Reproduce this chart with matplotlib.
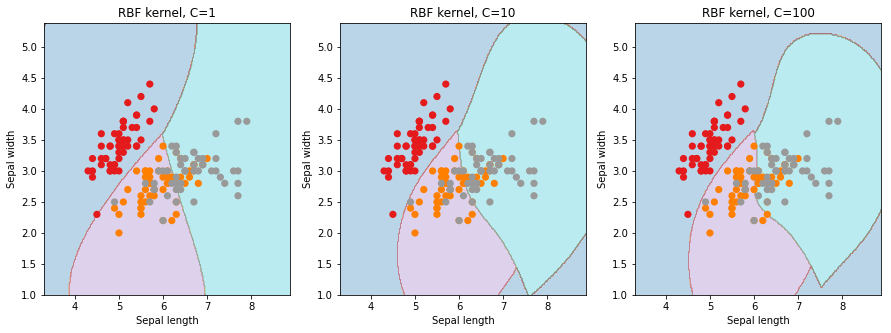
import numpy as np
import matplotlib
matplotlib.use("Agg")
import matplotlib.pyplot as plt

sepal_length = [5.1,4.9,4.7,4.6,5.0,5.4,4.6,5.0,4.4,4.9,5.4,4.8,4.8,4.3,5.8,5.7,5.4,5.1,5.7,5.1,
5.4,5.1,4.6,5.1,4.8,5.0,5.0,5.2,5.2,4.7,4.8,5.4,5.2,5.5,4.9,5.0,5.5,4.9,4.4,5.1,
5.0,4.5,4.4,5.0,5.1,4.8,5.1,4.6,5.3,5.0,
7.0,6.4,6.9,5.5,6.5,5.7,6.3,4.9,6.6,5.2,5.0,5.9,6.0,6.1,5.6,6.7,5.6,5.8,6.2,5.6,
5.9,6.1,6.3,6.1,6.4,6.6,6.8,6.7,6.0,5.7,5.5,5.5,5.8,6.0,5.4,6.0,6.7,6.3,5.6,5.5,
5.5,6.1,5.8,5.0,5.6,5.7,5.7,6.2,5.1,5.7,
6.3,5.8,7.1,6.3,6.5,7.6,4.9,7.3,6.7,7.2,6.5,6.4,6.8,5.7,5.8,6.4,6.5,7.7,7.7,6.0,
6.9,5.6,7.7,6.3,6.7,7.2,6.2,6.1,6.4,7.2,7.4,7.9,6.4,6.3,6.1,7.7,6.3,6.4,6.0,6.9,
6.7,6.9,5.8,6.8,6.7,6.7,6.3,6.5,6.2,5.9]
sepal_width = [3.5,3.0,3.2,3.1,3.6,3.9,3.4,3.4,2.9,3.1,3.7,3.4,3.0,3.0,4.0,4.4,3.9,3.5,3.8,3.8,
3.4,3.7,3.6,3.3,3.4,3.0,3.4,3.5,3.4,3.2,3.1,3.4,4.1,4.2,3.1,3.2,3.5,3.6,3.0,3.4,
3.5,2.3,3.2,3.5,3.8,3.0,3.8,3.2,3.7,3.3,
3.2,3.2,3.1,2.3,2.8,2.8,3.3,2.4,2.9,2.7,2.0,3.0,2.2,2.9,2.9,3.1,3.0,2.7,2.2,2.5,
3.2,2.8,2.5,2.8,2.9,3.0,2.8,3.0,2.9,2.6,2.4,2.4,2.7,2.7,3.0,3.4,3.1,2.3,3.0,2.5,
2.6,3.0,2.6,2.3,2.7,3.0,2.9,2.9,2.5,2.8,
3.3,2.7,3.0,2.9,3.0,3.0,2.5,2.9,2.5,3.6,3.2,2.7,3.0,2.5,2.8,3.2,3.0,3.8,2.6,2.2,
3.2,2.8,2.8,2.7,3.3,3.2,2.8,3.0,2.8,3.0,2.8,3.8,2.8,2.8,2.6,3.0,3.4,3.1,3.0,3.1,
3.1,3.1,2.7,3.2,3.3,3.0,2.5,3.0,3.4,3.0]
species = [0]*50 + [1]*50 + [2]*50
C_values = [1, 10, 100]
titles = ["RBF kernel, C=1", "RBF kernel, C=10", "RBF kernel, C=100"]
GAMMA = 0.5  # 1 / n_features

X = np.column_stack([sepal_length, sepal_width])
y = np.array(species)


def rbf(A, B, gamma):
    d = (A**2).sum(1)[:, None] + (B**2).sum(1)[None, :] - 2*A@B.T
    return np.exp(-gamma*d)


def train_binary(Xb, yb, C, gamma, tol=1e-3, max_iter=500000):
    K = rbf(Xb, Xb, gamma)
    Q = (yb[:, None]*yb[None, :])*K
    n = len(yb)
    a = np.zeros(n)
    G = -np.ones(n)
    dK = np.diag(K)
    for _ in range(max_iter):
        yG = -yb*G
        up = ((yb > 0) & (a < C)) | ((yb < 0) & (a > 0))
        low = ((yb > 0) & (a > 0)) | ((yb < 0) & (a < C))
        iu = np.where(up)[0]
        i = iu[np.argmax(yG[iu])]
        il = np.where(low)[0]
        if yG[i] - yG[il].min() < tol:
            break
        b = yG[i] - yG[il]
        ok = b > 0
        cand = il[ok]
        bb = b[ok]
        eta = np.maximum(dK[i] + dK[cand] - 2*K[i, cand], 1e-12)
        j = cand[np.argmin(-(bb**2)/eta)]
        gap = yG[i] - yG[j]
        et = max(dK[i] + dK[j] - 2*K[i, j], 1e-12)
        t = gap/et
        ti = C - a[i] if yb[i] > 0 else a[i]
        tj = a[j] if yb[j] > 0 else C - a[j]
        t = min(t, ti, tj)
        a[i] += yb[i]*t
        a[j] -= yb[j]*t
        G += t*(yb[i]*Q[:, i] - yb[j]*Q[:, j])
    free = (a > 1e-12) & (a < C - 1e-12)
    if free.any():
        rho = np.mean((yb*G)[free])
    else:
        rho = 0.5*((yb*G).max() + (yb*G).min())
    return a*yb, rho


def fit_predict(X, y, C, gamma, P):
    votes = np.zeros((len(P), 3))
    for p in range(3):
        for q in range(p+1, 3):
            m = (y == p) | (y == q)
            Xb = X[m]
            yb = np.where(y[m] == p, 1.0, -1.0)
            coef, rho = train_binary(Xb, yb, C, gamma)
            sv = np.abs(coef) > 0
            dec = rbf(P, Xb[sv], gamma) @ coef[sv] - rho
            votes[:, p] += dec > 0
            votes[:, q] += dec <= 0
    return votes.argmax(1)


h = 0.02
x_min, x_max = X[:, 0].min() - 1, X[:, 0].max() + 1
y_min, y_max = X[:, 1].min() - 1, X[:, 1].max() + 1
xx, yy = np.meshgrid(np.arange(x_min, x_max, h), np.arange(y_min, y_max, h))
P = np.c_[xx.ravel(), yy.ravel()]

W, H = 891, 333
fig = plt.figure(figsize=(W/72, H/72), dpi=72)
lefts = [44, 340, 635]
aw, top, bot = 246, 23.3, 295
for k, (Cv, title) in enumerate(zip(C_values, titles)):
    ax = fig.add_axes([lefts[k]/W, (H-bot)/H, aw/W, (bot-top)/H])
    Z = fit_predict(X, y, Cv, GAMMA, P).reshape(xx.shape)
    ax.contourf(xx, yy, Z, cmap=plt.cm.tab10, alpha=0.3)
    ax.scatter(X[:, 0], X[:, 1], c=y, cmap=plt.cm.Set1, s=52, linewidths=0)
    ax.set_xlim(xx.min(), xx.max())
    ax.set_ylim(yy.min(), yy.max())
    ax.set_xlabel("Sepal length", fontsize=10)
    ax.set_ylabel("Sepal width", fontsize=10)
    ax.set_title(title, fontsize=12)
    ax.tick_params(labelsize=10)
fig.savefig("out.png", dpi=72)
